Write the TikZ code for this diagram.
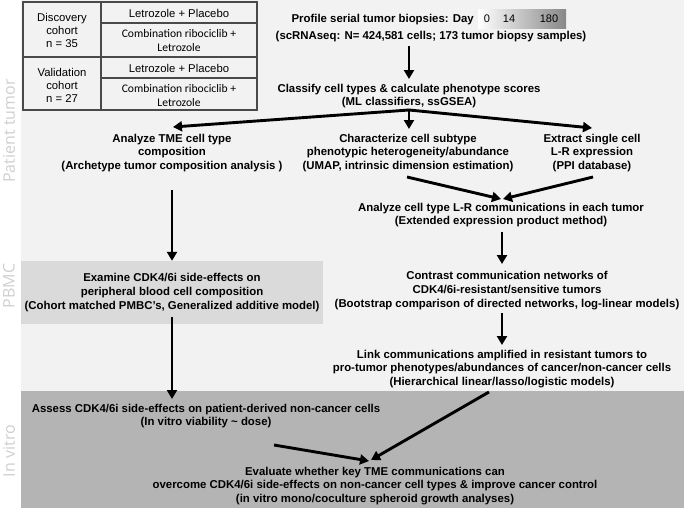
\documentclass[tikz,border=0pt]{standalone}
\usepackage{fontspec}
\setmainfont{Liberation Sans}
\newfontfamily\calfont{Carlito}
\newfontfamily\sidefont{Open Sans}
\usetikzlibrary{arrows.meta}
\definecolor{panel}{HTML}{F2F2F2}
\definecolor{pbmc}{HTML}{DADADA}
\definecolor{vitro}{HTML}{B4B4B4}
\definecolor{tline}{HTML}{4A4A4A}
\definecolor{side}{HTML}{CFCFCF}
\begin{document}
\begin{tikzpicture}[x=1pt,y=-1pt,
  lbl/.style={font=\fontsize{11.4}{13.7}\selectfont\bfseries, align=center, inner sep=0pt},
  tab/.style={font=\fontsize{11.3}{13}\selectfont, align=center, inner sep=0pt},
  tabc/.style={font=\calfont\fontsize{11.6}{14}\selectfont, align=center, inner sep=0pt},
  daylbl/.style={font=\fontsize{11}{13}\selectfont, inner sep=0pt},
  sidelbl/.style={font=\sidefont\fontsize{16}{18}\selectfont, text=side, rotate=90, inner sep=0pt},
  arr/.style={line width=2.9pt, -{Triangle[length=9pt,width=10pt]}},
  tb/.style={draw=tline, line width=1.2pt},
]
\useasboundingbox (0,0) rectangle (685,514);
% panels
\fill[panel] (21,0) rectangle (684,391);
\fill[vitro] (21,391) rectangle (684,508);
% side labels
\node[sidelbl] (sidept) at (9,131) {Patient tumor};
\node[sidelbl] (sidepb) at (9,286) {PBMC};
\node[sidelbl] (sideiv) at (9,451) {In vitro};
% table
\draw[tb] (23,2) rectangle (257,110);
\draw[tb] (101,2) -- (101,110);
\draw[tb] (23,57) -- (257,57);
\draw[tb] (101,23) -- (257,23);
\draw[tb] (101,78) -- (257,78);
\node[tab] (disc) at (62,30) {Discovery\\cohort\\n = 35};
\node[tab] (vali) at (62,85) {Validation\\cohort\\n = 27};
\node[tab] (d1) at (179,13) {Letrozole + Placebo};
\node[tabc] (d2) at (179,41) {Combination ribociclib +\\Letrozole};
\node[tab] (v1) at (179,68) {Letrozole + Placebo};
\node[tabc] (v2) at (179,95.5) {Combination ribociclib +\\Letrozole};
% day gradient
\shade[left color=white, right color=black!47] (478,9) rectangle (566,28);
\node[daylbl] (day0) at (487,19) {0};
\node[daylbl] (day14) at (509,19) {14};
\node[daylbl] (day180) at (549,19) {180};
% text nodes
\node[lbl, anchor=east] (prof1) at (474,20) {Profile serial tumor biopsies: Day};
\node[lbl] (prof2) at (431,37) {(scRNAseq: N= 424,581 cells; 173 tumor biopsy samples)};
\node[lbl] (classify) at (409,96) {Classify cell types \& calculate phenotype scores\\(ML classifiers, ssGSEA)};
\node[lbl] (tme) at (172,153) {Analyze TME cell type\\composition\\(Archetype tumor composition analysis )};
\node[lbl] (char) at (408,153) {Characterize cell subtype\\phenotypic heterogeneity/abundance\\(UMAP, intrinsic dimension estimation)};
\node[lbl] (extract) at (592,153) {Extract single cell\\L-R expression\\(PPI database)};
\node[lbl] (lr) at (501,215) {Analyze cell type L-R communications in each tumor\\(Extended expression product method)};
\node[lbl, fill=pbmc, minimum width=302pt, minimum height=63pt] (examine) at (172,292.5) {Examine CDK4/6i side-effects on\\peripheral blood cell composition\\(Cohort matched PMBC's, Generalized additive model)};
\node[lbl] (contrast) at (507,290.5) {Contrast communication networks of\\CDK4/6i-resistant/sensitive tumors\\(Bootstrap comparison of directed networks, log-linear models)};
\node[lbl] (link) at (502,369) {Link communications amplified in resistant tumors to\\pro-tumor phenotypes/abundances of cancer/non-cancer cells\\(Hierarchical linear/lasso/logistic models)};
\node[lbl] (assess) at (206,416) {Assess CDK4/6i side-effects on patient-derived non-cancer cells\\(In vitro viability \textasciitilde{} dose)};
\node[lbl] (eval) at (375,486) {Evaluate whether key TME communications can\\overcome CDK4/6i side-effects on non-cancer cell types \& improve cancer control\\(in vitro mono/coculture spheroid growth analyses)};
% connector coordinates
\coordinate (profout) at (409,46);
\coordinate (clsin) at (409,79);
\coordinate (fan) at (409,110);
\coordinate (tmein) at (173,127);
\coordinate (charin) at (409,129);
\coordinate (extin) at (592,128);
\coordinate (tmeout) at (172,190);
\coordinate (charout) at (407,177);
\coordinate (extout) at (593,177);
\coordinate (lrinl) at (501,199);
\coordinate (lrinr) at (503,199);
\coordinate (lrout) at (502,232);
\coordinate (contin) at (502,264);
\coordinate (contout) at (502,313);
\coordinate (linkin) at (502,345);
\coordinate (exout) at (172,317);
\coordinate (assin) at (172,399);
\coordinate (linkout) at (489,392);
\coordinate (evinr) at (371,460);
\coordinate (assout) at (274,445);
\coordinate (evinl) at (369,461);
% connectors
\draw[arr] (profout) -- (clsin);
\draw[arr] (fan) -- (tmein);
\draw[arr] (fan) -- (charin);
\draw[arr] (fan) -- (extin);
\draw[arr] (tmeout) -- (examine.north);
\draw[arr] (charout) -- (lrinl);
\draw[arr] (extout) -- (lrinr);
\draw[arr] (lrout) -- (contin);
\draw[arr] (contout) -- (linkin);
\draw[arr] (exout) -- (assin);
\draw[arr] (linkout) -- (evinr);
\draw[arr] (assout) -- (evinl);
\end{tikzpicture}
\end{document}
